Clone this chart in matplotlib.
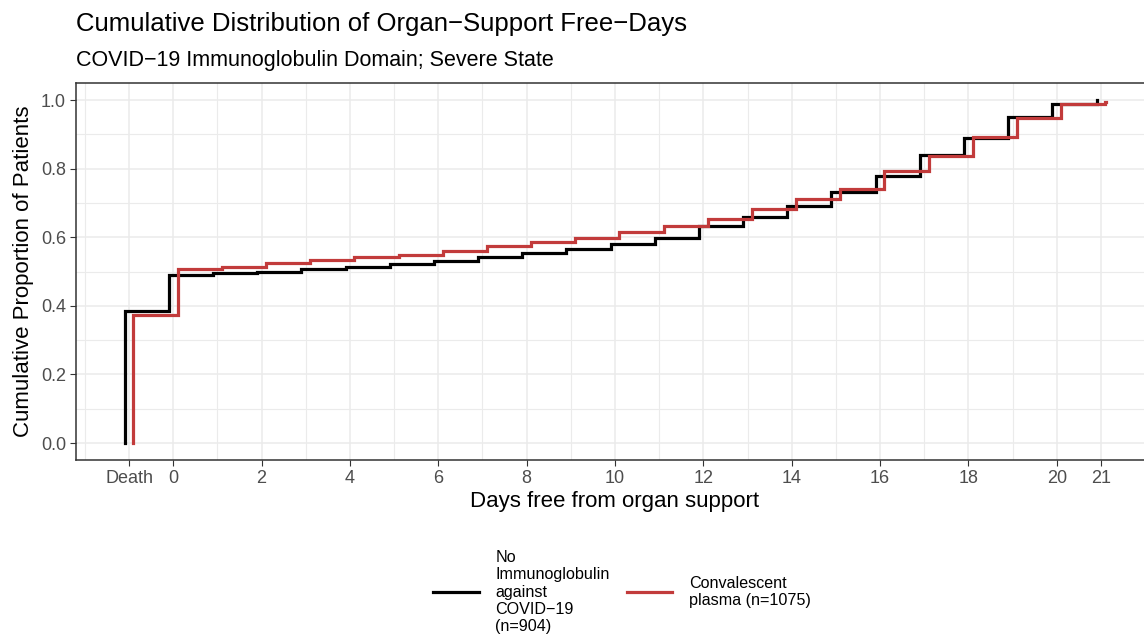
import matplotlib
matplotlib.use("Agg")
import matplotlib.pyplot as plt
from matplotlib.ticker import MultipleLocator

plt.rcParams['font.family'] = ['Liberation Sans', 'DejaVu Sans']

# days free from organ support; -1 stands for death
days = [-1, 0, 1, 2, 3, 4, 5, 6, 7, 8, 9, 10, 11, 12, 13, 14, 15, 16, 17, 18, 19, 20, 21]

# cumulative proportions
no_ig = [0.385, 0.490, 0.495, 0.499, 0.507, 0.514, 0.522, 0.531, 0.541, 0.553, 0.565,
         0.580, 0.597, 0.634, 0.660, 0.692, 0.733, 0.778, 0.840, 0.888, 0.951, 0.988, 1.000]
plasma = [0.372, 0.506, 0.514, 0.524, 0.533, 0.542, 0.549, 0.559, 0.575, 0.585, 0.598,
          0.616, 0.633, 0.652, 0.681, 0.711, 0.740, 0.794, 0.837, 0.891, 0.948, 0.988, 0.993]

labels = ["No\nImmunoglobulin\nagainst\nCOVID\u221219\n(n=904)", "Convalescent\nplasma (n=1075)"]
colors = ["#000000", "#C23B3B"]
offsets = [-0.1, 0.1]

tick_pos = [-1, 0, 2, 4, 6, 8, 10, 12, 14, 16, 18, 20, 21]
tick_lab = ["Death"] + [str(t) for t in tick_pos[1:]]

fig = plt.figure(figsize=(11.44, 6.35), dpi=100)
ax = fig.add_axes([75.6 / 1144, 1 - 460.2 / 635, (1154.4 - 75.6) / 1144, 377.3 / 635])

handles = []
for ys, col, off, lab in zip([no_ig, plasma], colors, offsets, labels):
    xs = [days[0] + off] + [d + off for d in days]
    yy = [0.0] + ys
    # small tail after the last step
    xs.append(days[-1] + off + 0.02)
    yy.append(ys[-1])
    h, = ax.plot(xs, yy, drawstyle="steps-post", color=col, lw=2.3, label=lab,
                 solid_joinstyle="miter")
    handles.append(h)

ax.set_xlim(-2.21, 22.21)
ax.set_ylim(-0.05, 1.05)
ax.set_xticks(tick_pos)
ax.set_xticklabels(tick_lab)
ax.xaxis.set_minor_locator(MultipleLocator(1))
ax.set_yticks([0, 0.2, 0.4, 0.6, 0.8, 1.0])
ax.set_yticklabels(["0.0", "0.2", "0.4", "0.6", "0.8", "1.0"])
ax.yaxis.set_minor_locator(MultipleLocator(0.1))
ax.grid(True, which="major", color="#EBEBEB", lw=1.1)
ax.grid(True, which="minor", color="#EBEBEB", lw=0.8)
ax.set_axisbelow(True)
ax.tick_params(which="major", length=4, width=0.8, color="#333333", labelcolor="#4D4D4D",
               labelsize=13, pad=3)
ax.tick_params(which="minor", length=0)
for s in ax.spines.values():
    s.set_color("#333333")
    s.set_linewidth(1.1)

ax.set_xlabel("Days free from organ support", fontsize=16, labelpad=3)
ax.set_ylabel("Cumulative Proportion of Patients", fontsize=16, labelpad=5)

fig.text(76 / 1144, 1 - 31 / 635, "Cumulative Distribution of Organ\u2212Support Free\u2212Days",
         fontsize=18.5, ha="left", va="baseline")
fig.text(76 / 1144, 1 - 66 / 635, "COVID\u221219 Immunoglobulin Domain; Severe State",
         fontsize=15.5, ha="left", va="baseline")

fig.legend(handles=handles, labels=labels, loc="center", ncol=2,
           bbox_to_anchor=(622 / 1144, 1 - 592 / 635), frameon=False, fontsize=11.6,
           handlelength=2.8, handletextpad=1.05, columnspacing=1.05, labelspacing=0.3)

fig.savefig("out.png", dpi=100)
